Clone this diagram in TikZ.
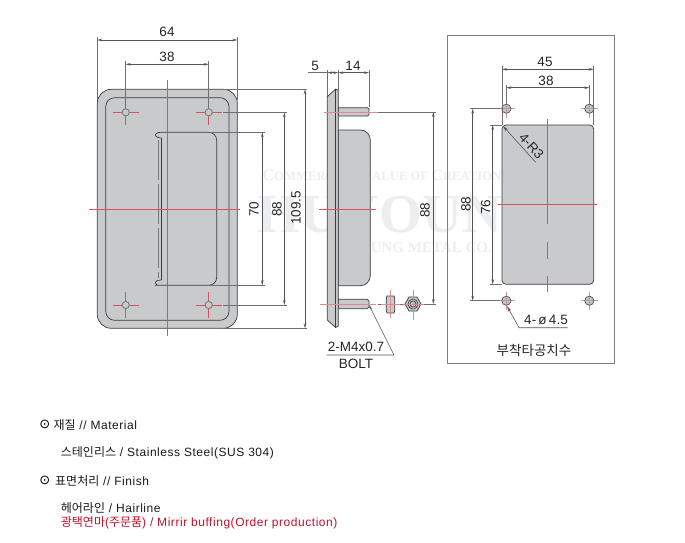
\documentclass[tikz,border=0pt]{standalone}
\usepackage{fontspec}
\setmainfont{Liberation Sans}
\newfontfamily\cjkfont{Noto Sans CJK KR}
\newfontfamily\wmfont{Liberation Serif}
\newfontfamily\symfont{DejaVu Sans}
\newfontfamily\notefont[LetterSpace=4.5]{Liberation Sans}
\usetikzlibrary{arrows.meta}
\definecolor{platefill}{HTML}{C9CACC}
\definecolor{outl}{HTML}{3A3A3C}
\definecolor{dimc}{HTML}{55565A}
\definecolor{redl}{HTML}{D8525F}
\definecolor{redp}{HTML}{E08A94}
\definecolor{redt}{HTML}{C4102A}
\definecolor{wmc}{HTML}{EDEEF0}
\tikzset{
  x=1pt,y=-1pt,
  outline/.style={draw=outl,line width=.7pt},
  plate/.style={outline,fill=platefill},
  dimline/.style={draw=dimc,line width=.6pt,{Stealth[length=5pt,width=2.6pt]}-{Stealth[length=5pt,width=2.6pt]}},
  extline/.style={draw=dimc!85,line width=.6pt},
  leader/.style={draw=dimc,line width=.6pt},
  redline/.style={draw=redl,line width=.7pt},
  paleline/.style={draw=redp,line width=.7pt},
  dimtext/.style={inner sep=0pt,text=black!85,font=\fontsize{13.5}{14}\selectfont},
  btext/.style={inner sep=0pt,anchor=west,text=black!90,font=\notefont\fontsize{12}{13}\selectfont},
  wmsmall/.style={inner sep=0pt,text=wmc,font=\wmfont\bfseries\fontsize{15}{16}\selectfont},
  wmbig/.style={inner sep=0pt,text=wmc,font=\wmfont\bfseries\fontsize{55}{57}\selectfont},
  hole/.style={draw=dimc!80,fill=platefill,line width=.9pt},
  mounthole/.style={draw=dimc,fill=platefill!85!black,fill opacity=.75,line width=.7pt},
}
\begin{document}
\begin{tikzpicture}
\useasboundingbox (0,0) rectangle (685,543);
\fill[white] (0,0) rectangle (685,543);

% watermark
\node[wmsmall] (wm1) at (382,175) {\fontsize{16}{16}\selectfont C\fontsize{12.7}{13}\selectfont OMMERCIAL \fontsize{16}{16}\selectfont V\fontsize{12.7}{13}\selectfont ALUE OF \fontsize{16}{16}\selectfont C\fontsize{12.7}{13}\selectfont REATION};
\node[wmbig] (wm2) at (401,215) {HUYOUNG};
\node[wmsmall,anchor=east] (wm3) at (492,248) {HUYOUNG METAL CO.};

% front view
\draw[plate,rounded corners=14pt] (97.3,89.3) rectangle (237.3,328.3);
\draw[outline,rounded corners=9pt] (105.7,97.7) rectangle (229,320.3);
% handle recess
\draw[outline] (161.7,138) -- (161.7,280);
\draw[outline] (161.7,138) .. controls (158,138) and (155,136.5) .. (155.5,134.5) .. controls (156,132.5) and (159,132.3) .. (163,132.3)
  [rounded corners=8pt] -- (216.7,132.3) -- (216.7,285.3) -- (163,285.3) [sharp corners]
  .. controls (159,285.3) and (156,285) .. (155.5,283) .. controls (155,281) and (158,280) .. (161.7,280);
\draw[dimc!80,line width=.5pt,dash pattern=on 40pt off 4pt] (158.7,140) -- (158.7,278);
% holes
\foreach \hx in {125.7,208.7}{\foreach \hy in {112.3,305}{
  \draw[redline] (\hx-13,\hy) -- (\hx+13,\hy) (\hx,\hy-13) -- (\hx,\hy+13);
  \draw[hole] (\hx,\hy) circle[radius=3.6];
}}
\draw[redline] (167,80) -- (167,336);
\draw[redline] (89,209) -- (240,209);
% front dims
\draw[extline] (97.3,37) -- (97.3,100) (237.3,37) -- (237.3,100);
\draw[extline] (125.7,61) -- (125.7,108) (208.7,61) -- (208.7,108);
\draw[dimline] (97.3,40) -- (237.3,40);
\draw[dimline] (125.7,64.3) -- (208.7,64.3);
\node[dimtext] (d64) at (167,32) {64};
\node[dimtext] (d38a) at (167,57) {38};
\draw[extline] (222,89.3) -- (307,89.3) (222,328.3) -- (307,328.3);
\draw[extline] (223,112.3) -- (287,112.3) (223,305) -- (287,305);
\draw[extline] (165,132.3) -- (265,132.3) (165,285.3) -- (265,285.3);
\draw[dimline] (262.3,132.3) -- (262.3,285.3);
\draw[dimline] (284.3,112.3) -- (284.3,305);
\draw[dimline] (305,89.3) -- (305,328.3);
\node[dimtext,rotate=90] (d70) at (254,209) {70};
\node[dimtext,rotate=90] (d88a) at (277,209) {88};
\node[dimtext,rotate=90] (d109) at (296,208) {109.5};

% side view
\draw[plate] (338.3,130) [rounded corners=10pt] -- (370.3,130) -- (370.3,285.7) [sharp corners] -- (338.3,285.7) -- cycle;
\draw[plate] (338.3,107.7) -- (367.5,107.7) -- (369,109) -- (369,114.5) -- (367.5,116) -- (338.3,116) -- cycle;
\draw[plate] (338.3,299.3) -- (367,299.3) -- (369,301) -- (369,307) -- (367,308.7) -- (338.3,308.7) -- cycle;
\draw[plate] (327.3,96.7) -- (335.7,89) -- (338.3,90.5) -- (338.3,326) -- (335.7,327.5) -- (327.3,320) -- cycle;
\draw[outline] (335.7,89) -- (335.7,327.5);
\draw[paleline] (324,112) -- (378,112);
\draw[redline] (319,209) -- (376,209);
\draw[paleline] (320,304) -- (376,304);
\draw[extline] (378,112) -- (436,112) (378,304) -- (436,304);
\draw[dimline] (433.3,112) -- (433.3,304);
\node[dimtext,rotate=90] (d88b) at (425,210) {88};
% side dims
\draw[extline] (327.3,70) -- (327.3,96) (338.3,70) -- (338.3,90) (369,70) -- (369,107);
\draw[extline] (308,72.7) -- (327.3,72.7);
\draw[dimline] (327.3,72.7) -- (338.3,72.7);
\draw[dimline] (338.3,72.7) -- (369,72.7);
\node[dimtext] (d5) at (315,65.5) {5};
\node[dimtext] (d14) at (353,65.5) {14};
% nuts
\draw[plate] (387,296) -- (394,296) -- (394.8,299) -- (394.8,310) -- (394,313) -- (387,313) -- (386.2,310) -- (386.2,299) -- cycle;
\draw[outline] (386.2,304) -- (394.8,304);
\draw[outline] (390.7,296) -- (390.7,313);
\draw[plate] (421,304) -- (417,297) -- (409,297) -- (405,304) -- (409,311) -- (417,311) -- cycle;
\draw[outline] (413,304) circle[radius=5];
\draw[outline] (413,304) circle[radius=3];
\draw[paleline] (381,304) -- (400,304) (403,304) -- (424,304);
\draw[paleline] (390.7,290) -- (390.7,318) (413,290) -- (413,320);
% bolt leader
\coordinate (bt) at (369,305);
\coordinate (bk) at (394,355);
\coordinate (be) at (326.7,355);
\draw[leader,{Stealth[length=5pt,width=2.6pt]}-] (bt) -- (bk) -- (be);
\node[dimtext] (bolt1) at (356,347) {2-M4x0.7};
\node[dimtext] (bolt2) at (356,364) {BOLT};

% right panel
\draw[draw=black!50,line width=.9pt] (447.7,35.7) rectangle (614.5,363.3);
\draw[plate,rounded corners=4pt] (502,125) rectangle (593.7,284.3);
\foreach \hx in {506.3,589.3}{\foreach \hy in {108.7,300.7}{
  \draw[paleline] (\hx-8,\hy) -- (\hx+9,\hy) (\hx,\hy-9) -- (\hx,\hy+9);
  \draw[mounthole] (\hx,\hy) circle[radius=4.6];
}}
\draw[redline] (547.7,119) -- (547.7,224) (547.7,241.7) -- (547.7,259) (547.7,276) -- (547.7,292);
\draw[redline] (498,204.7) -- (597,204.7);
\draw[extline] (502,66) -- (502,125) (593.7,66) -- (593.7,125);
\draw[extline] (506.3,85) -- (506.3,104) (589.3,85) -- (589.3,104);
\draw[dimline] (502,69.3) -- (593.7,69.3);
\draw[dimline] (506.3,87.7) -- (589.3,87.7);
\node[dimtext] (d45) at (545,62) {45};
\node[dimtext] (d38b) at (546,81) {38};
\draw[extline] (470,108.7) -- (500,108.7) (470,300.7) -- (500,300.7);
\draw[extline] (490,125) -- (502,125) (490,284.3) -- (502,284.3);
\draw[dimline] (472.7,108.7) -- (472.7,300.7);
\draw[dimline] (492.7,125) -- (492.7,284.3);
\node[dimtext,rotate=90] (d88c) at (466,204) {88};
\node[dimtext,rotate=90] (d76) at (485.7,207) {76};
\coordinate (rt) at (503,126);
\coordinate (re) at (535.7,162.3);
\draw[leader,{Stealth[length=6pt,width=3pt]}-] (rt) -- (re);
\node[dimtext,rotate=-47] (r3) at (531.5,146) {4-R3};
\coordinate (ht) at (507,306);
\coordinate (hk) at (519,327.7);
\coordinate (he) at (567.7,327.7);
\draw[leader,{Stealth[length=6pt,width=3pt]}-] (ht) -- (hk) -- (he);
\node[dimtext] (h45) at (546,320) {4-\,ø\,4.5};
\node[inner sep=0pt,text=black!85,font=\cjkfont\fontsize{13.5}{14}\selectfont] (title) at (534,350) {부착타공치수};

% notes
\node[inner sep=0pt,font=\symfont\fontsize{13}{14}\selectfont] (b1) at (44.7,424.7) {⊙};
\node[btext] (t1) at (53.3,424.7) {{\cjkfont 재질} // Material};
\node[btext] (t2) at (60.7,452.7) {{\cjkfont 스테인리스} / Stainless Steel(SUS 304)};
\node[inner sep=0pt,font=\symfont\fontsize{13}{14}\selectfont] (b2) at (44.7,480.7) {⊙};
\node[btext] (t3) at (55,480.7) {{\cjkfont 표면처리} // Finish};
\node[btext] (t4) at (60.7,508) {{\cjkfont 헤어라인} / Hairline};
\node[btext,text=redt] (t5) at (60.7,522.7) {{\cjkfont 광택연마}({\cjkfont 주문품}) / Mirrir buffing(Order production)};
\end{tikzpicture}
\end{document}
